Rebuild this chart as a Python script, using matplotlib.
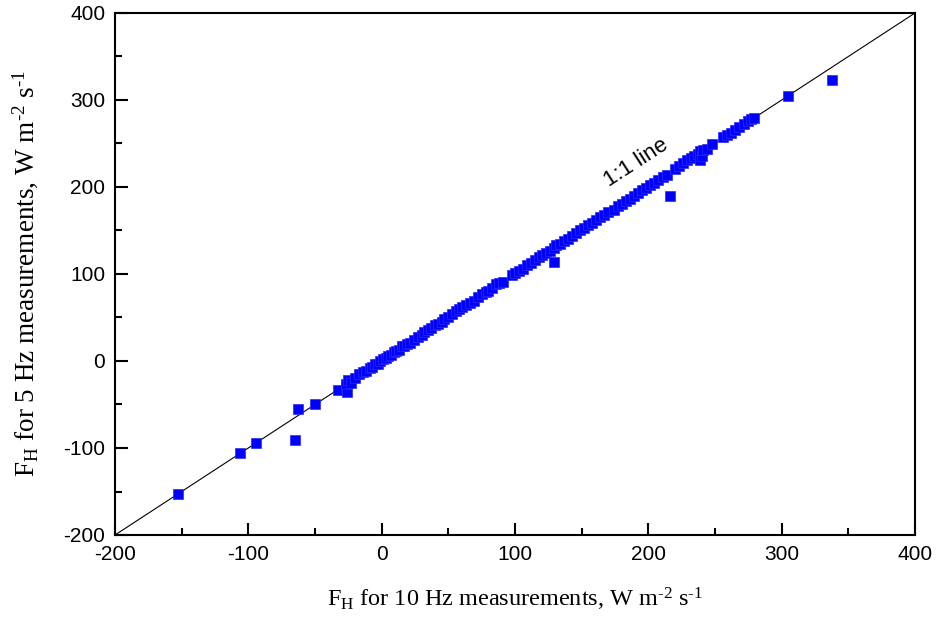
import matplotlib
matplotlib.use("Agg")
import matplotlib.pyplot as plt
from matplotlib.ticker import MultipleLocator

plt.rcParams['axes.unicode_minus'] = False
plt.rcParams['mathtext.fontset'] = 'custom'
plt.rcParams['mathtext.rm'] = 'Liberation Serif'
plt.rcParams['mathtext.it'] = 'Liberation Serif:italic'

# Sensible heat flux: 10 Hz (x) vs 5 Hz (y), W m-2 s-1
fh_10hz = [-153, -106, -94, -65, -63, -50, -33, -27, -26, -27, -25, -23, -20, -17, -14, -12,
           -9, -7, -5, -3, -1, 1, 3, 5, 7, 9, 11, 13, 15, 17, 19, 21, 24, 27, 30, 32,
           35, 37, 40, 42, 45, 47, 50, 53, 56, 58, 60, 63, 66, 69, 72, 75, 78, 80,
           83, 86, 88, 91, 98, 100, 103, 106, 109, 112, 115, 118, 120, 123, 126, 129,
           129, 131, 134, 137, 140, 143, 146, 149, 152, 155, 158, 161, 164, 167, 170,
           174, 177, 180, 183, 186, 189, 192, 195, 198, 201, 204, 207, 211, 214, 216,
           220, 223, 226, 229, 232, 234, 237, 239, 239, 240, 241, 244, 248, 256, 259,
           262, 265, 268, 272, 275, 277, 279, 305, 338]
fh_5hz = [-153, -106, -94, -91, -55, -50, -33, -30, -36, -27, -22, -25, -19, -15, -13, -12,
          -8, -7, -3, -4, 0, 2, 3, 6, 7, 10, 12, 13, 17, 17, 20, 21, 24, 28, 30, 33,
          36, 38, 41, 43, 45, 48, 50, 54, 57, 60, 62, 64, 67, 69, 73, 77, 79, 81,
          84, 88, 90, 91, 99, 101, 104, 106, 110, 113, 116, 119, 122, 124, 127, 130,
          114, 133, 135, 138, 140, 144, 147, 150, 153, 156, 159, 162, 165, 168, 171,
          174, 178, 181, 184, 186, 190, 193, 196, 199, 202, 205, 208, 211, 214, 190,
          221, 224, 228, 231, 233, 236, 238, 241, 231, 236, 242, 244, 249, 257, 260,
          262, 266, 269, 272, 276, 278, 279, 305, 323]

one_to_one = [-200, 400]

fig = plt.figure(figsize=(9.36, 6.24), dpi=100)
ax = fig.add_axes([115/936, 1-535/624, 800/936, 522/624])

ax.plot(one_to_one, one_to_one, color='black', lw=0.8, zorder=1)
ax.plot(fh_10hz, fh_5hz, linestyle='none', marker='s', ms=6.8,
        mfc='#0000FF', mec='#2a2aff', mew=0.5, zorder=2)

ax.set_xlim(-200, 400)
ax.set_ylim(-200, 400)
ax.xaxis.set_major_locator(MultipleLocator(100))
ax.xaxis.set_minor_locator(MultipleLocator(50))
ax.yaxis.set_major_locator(MultipleLocator(100))
ax.yaxis.set_minor_locator(MultipleLocator(50))
ax.tick_params(which='both', direction='in', top=False, right=False, width=1.5)
ax.tick_params(which='major', length=9, labelsize=15, pad=7)
ax.tick_params(which='minor', length=5)
for lab in ax.get_xticklabels() + ax.get_yticklabels():
    lab.set_family('Liberation Sans')
for sp in ax.spines.values():
    sp.set_linewidth(1.5)

ax.set_xlabel(r'F$_\mathregular{H}$ for 10 Hz measurements, W m$^{\text{-2}}$ s$^{\text{-1}}$',
              family='Liberation Serif', fontsize=17.5, labelpad=16)
ax.set_ylabel(r'F$_\mathregular{H}$ for 5 Hz measurements, W m$^{\text{-2}}$ s$^{\text{-1}}$',
              family='Liberation Serif', fontsize=19.5, labelpad=17)

ax.text(191, 228, '1:1 line', rotation=33, family='Liberation Sans', fontsize=16,
        ha='center', va='center')

fig.savefig('out.png', dpi=100)
